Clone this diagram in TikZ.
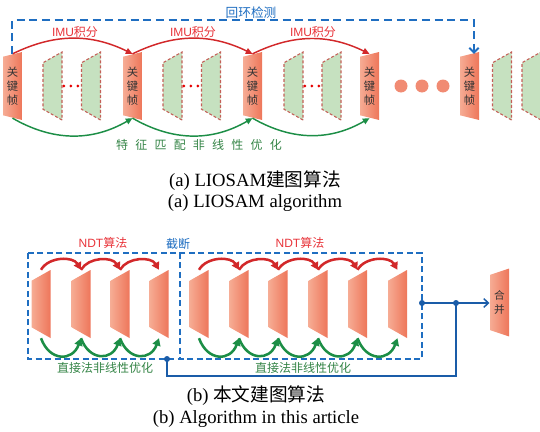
\documentclass[tikz,border=0pt]{standalone}
\usepackage{fontspec}
\setmainfont{Liberation Serif}
\setsansfont{Liberation Sans}
\newfontfamily\cjk{Noto Sans CJK SC}
\newfontfamily\cjkwide[LetterSpace=60]{Noto Sans CJK SC}
\usetikzlibrary{shapes.geometric,arrows.meta,calc}

\definecolor{keylight}{RGB}{246,172,148}
\definecolor{keydark}{RGB}{238,118,90}
\definecolor{midgreen}{RGB}{198,225,192}
\definecolor{framered}{RGB}{196,96,88}
\definecolor{arcred}{RGB}{210,40,42}
\definecolor{lblred}{RGB}{232,52,58}
\definecolor{arcgreen}{RGB}{28,142,70}
\definecolor{lblgreen}{RGB}{52,132,70}
\definecolor{loopblue}{RGB}{31,110,193}
\definecolor{lineblue}{RGB}{26,92,168}

\tikzset{every picture/.style={line width=0.75pt}}
\tikzset{
  frameshape/.style={trapezium, trapezium left angle=77, trapezium right angle=77,
    shape border rotate=90, trapezium stretches=true,
    minimum width=51pt, minimum height=14.25pt, inner sep=1pt},
  keyframe/.style={frameshape, left color=keylight, right color=keydark, draw=none,
    align=center, text=black!80, font=\cjk\fontsize{8.5}{10.5}\selectfont},
  midframe/.style={frameshape, fill=midgreen, draw=framered, line width=0.8pt,
    dash pattern=on 2.2pt off 1.5pt},
  dotline/.style={draw=red!90!black, line width=2.4pt, line cap=round,
    dash pattern=on 0pt off 5.25pt, shorten <=1pt},
  bigdot/.style={circle, fill=keydark!85!white, minimum size=9.75pt, inner sep=0pt},
  imuarc/.style={draw=arcred, line width=1.1pt, -{Triangle[length=5pt,width=4.5pt]}},
  featarc/.style={draw=arcgreen, line width=1.1pt, -{Triangle[length=5pt,width=4.5pt]}},
  ndtarc/.style={draw=arcred, line width=1.9pt, -{Triangle[length=5.5pt,width=6pt]}},
  directarc/.style={draw=arcgreen, line width=1.9pt, -{Triangle[length=5.5pt,width=6pt]}},
  loopline/.style={draw=loopblue, line width=1.5pt, dash pattern=on 6pt off 3.5pt},
  cutbox/.style={draw=loopblue, line width=1.3pt, dash pattern=on 4.5pt off 2.6pt},
  flowline/.style={draw=lineblue, line width=1.1pt},
  bluedot/.style={circle, fill=lineblue, minimum size=4.5pt, inner sep=0pt},
  caption/.style={inner sep=0pt, font=\fontsize{14}{16}\selectfont},
}

\begin{document}
\begin{tikzpicture}[x=0.75pt,y=0.75pt,yscale=-1,xscale=1]
\useasboundingbox (0,0) rectangle (540,432);

%Shape: key frames and frames between them, upper row
\node [keyframe] (k1) at (12.5,86) {关\\键\\帧};
\node [midframe] (g1a) at (52.5,86) {};
\node [midframe] (g1b) at (91,86) {};
\node [keyframe] (k2) at (132.5,86) {关\\键\\帧};
\node [midframe] (g2a) at (172.5,86) {};
\node [midframe] (g2b) at (211,86) {};
\node [keyframe] (k3) at (252.5,86) {关\\键\\帧};
\node [midframe] (g3a) at (293.5,86) {};
\node [midframe] (g3b) at (331.5,86) {};
\node [keyframe] (k4) at (369.5,86) {关\\键\\帧};
\node [bigdot] (d1) at (401,86) {};
\node [bigdot] (d2) at (422,86) {};
\node [bigdot] (d3) at (443,86) {};
\node [keyframe] (k5) at (469.5,86) {关\\键\\帧};
\node [midframe] (g5a) at (502,86) {};
\node [midframe] (g5b) at (531.5,86) {};

%Straight Lines: red dots between frames
\draw [dotline] (g1a.east) -- (g1b.west);
\draw [dotline] (g2a.east) -- (g2b.west);
\draw [dotline] (g3a.east) -- (g3b.west);

%Curve Lines: IMU integration
\draw [imuarc] (k1.north) to[bend right=26] (k2.north);
\draw [imuarc] (k2.north) to[bend right=26] (k3.north);
\draw [imuarc] (k3.north) to[bend right=26] (k4.north);
%Curve Lines: feature matching
\draw [featarc] (k1.south) to[bend left=30] (k2.south);
\draw [featarc] (k2.south) to[bend left=30] (k3.south);
\draw [featarc] (k3.south) to[bend left=30] (k4.south);

%Straight Lines: loop closure
\coordinate (looptop) at (474,20);
\draw [loopline] (k1.north) |- (looptop) -- (k5.north -| looptop);
\draw [loopblue, line width=1.5pt, -{Straight Barb[length=3.5pt,width=7pt]}] ($(k5.north -| looptop)+(0,-4)$) -- (k5.north -| looptop);

% Text Node
\node (imu1) at (75,32) [text=lblred, font=\fontsize{9}{11}\selectfont] {\sffamily IMU\cjk 积分};
\node (imu2) at (193,32) [text=lblred, font=\fontsize{9}{11}\selectfont] {\sffamily IMU\cjk 积分};
\node (imu3) at (313,32) [text=lblred, font=\fontsize{9}{11}\selectfont] {\sffamily IMU\cjk 积分};
% Text Node
\node (looplbl) at (251,13) [text=loopblue, font=\cjk\fontsize{9.5}{11}\selectfont] {回环检测};
% Text Node
\node (featlbl) at (199,145) [text=lblgreen, font=\cjkwide\fontsize{9}{11}\selectfont] {特征匹配非线性优化};

% Text Node
\node (capa1) at (255,181) [caption] {(a) LIOSAM{\cjk 建图算法}};
\node (capa2) at (255,203) [caption] {(a) LIOSAM algorithm};

%Shape: truncation box
\draw [cutbox] (28,253) rectangle (422,359);
\draw [cutbox] (180,253) -- (180,359);

%Shape: frames, lower row
\node [keyframe] (s1) at (41,304) {};
\node [keyframe] (s2) at (81,304) {};
\node [keyframe] (s3) at (120,304) {};
\node [keyframe] (s4) at (159,304) {};
\node [keyframe] (s5) at (199,304) {};
\node [keyframe] (s6) at (239,304) {};
\node [keyframe] (s7) at (278,304) {};
\node [keyframe] (s8) at (318,304) {};
\node [keyframe] (s9) at (357.5,304) {};
\node [keyframe] (s10) at (397.5,304) {};
\node [keyframe, font=\cjk\fontsize{8}{10.5}\selectfont] (m) at (499.5,302.5) {合\\并};

%Curve Lines: NDT
\draw [ndtarc] ($(s1.north)+(0,-5)$) to[out=-60,in=-120] ($(s2.north)+(0,-5)$);
\draw [ndtarc] ($(s2.north)+(0,-5)$) to[out=-60,in=-120] ($(s3.north)+(0,-5)$);
\draw [ndtarc] ($(s3.north)+(0,-5)$) to[out=-60,in=-120] ($(s4.north)+(0,-5)$);
\draw [ndtarc] ($(s5.north)+(0,-5)$) to[out=-60,in=-120] ($(s6.north)+(0,-5)$);
\draw [ndtarc] ($(s6.north)+(0,-5)$) to[out=-60,in=-120] ($(s7.north)+(0,-5)$);
\draw [ndtarc] ($(s7.north)+(0,-5)$) to[out=-60,in=-120] ($(s8.north)+(0,-5)$);
\draw [ndtarc] ($(s8.north)+(0,-5)$) to[out=-60,in=-120] ($(s9.north)+(0,-5)$);
\draw [ndtarc] ($(s9.north)+(0,-5)$) to[out=-60,in=-120] ($(s10.north)+(0,-5)$);
%Curve Lines: direct optimisation
\draw [directarc] ($(s1.south)+(0,5)$) to[out=70,in=110,looseness=1.6] ($(s2.south)+(0,5)$);
\draw [directarc] ($(s2.south)+(0,5)$) to[out=70,in=110,looseness=1.6] ($(s3.south)+(0,5)$);
\draw [directarc] ($(s3.south)+(0,5)$) to[out=70,in=110,looseness=1.6] ($(s4.south)+(0,5)$);
\draw [directarc] ($(s5.south)+(0,5)$) to[out=70,in=110,looseness=1.6] ($(s6.south)+(0,5)$);
\draw [directarc] ($(s6.south)+(0,5)$) to[out=70,in=110,looseness=1.6] ($(s7.south)+(0,5)$);
\draw [directarc] ($(s7.south)+(0,5)$) to[out=70,in=110,looseness=1.6] ($(s8.south)+(0,5)$);
\draw [directarc] ($(s8.south)+(0,5)$) to[out=70,in=110,looseness=1.6] ($(s9.south)+(0,5)$);
\draw [directarc] ($(s9.south)+(0,5)$) to[out=70,in=110,looseness=1.6] ($(s10.south)+(0,5)$);

%Straight Lines: merge connectors
\coordinate (cutA) at (167,359);
\coordinate (cutB) at (422,303);
\coordinate (jn) at (456,303);
\draw [flowline, -{Straight Barb[length=3.5pt,width=6.5pt]}] (cutB) -- (cutB -| m.west);
\draw [flowline] (cutA) -- ++(0,17) -| (jn);
\node [bluedot] (dotA) at (cutA) {};
\node [bluedot] (dotB) at (cutB) {};
\node [bluedot] (dotJ) at (jn) {};

% Text Node
\node (ndt1) at (103,243) [text=lblred, font=\fontsize{9}{11}\selectfont] {\sffamily NDT\cjk 算法};
\node (ndt2) at (300,243) [text=lblred, font=\fontsize{9}{11}\selectfont] {\sffamily NDT\cjk 算法};
\node (cutlbl) at (178,244) [text=loopblue, font=\cjk\fontsize{9}{11}\selectfont] {截断};
\node (dir1) at (105,368) [text=lblgreen, font=\cjk\fontsize{9}{11}\selectfont] {直接法非线性优化};
\node (dir2) at (303,368) [text=lblgreen, font=\cjk\fontsize{9}{11}\selectfont] {直接法非线性优化};

% Text Node
\node (capb1) at (256,396) [caption] {(b) {\cjk 本文建图算法}};
\node (capb2) at (256,419) [caption] {(b) Algorithm in this article};

\end{tikzpicture}
\end{document}
